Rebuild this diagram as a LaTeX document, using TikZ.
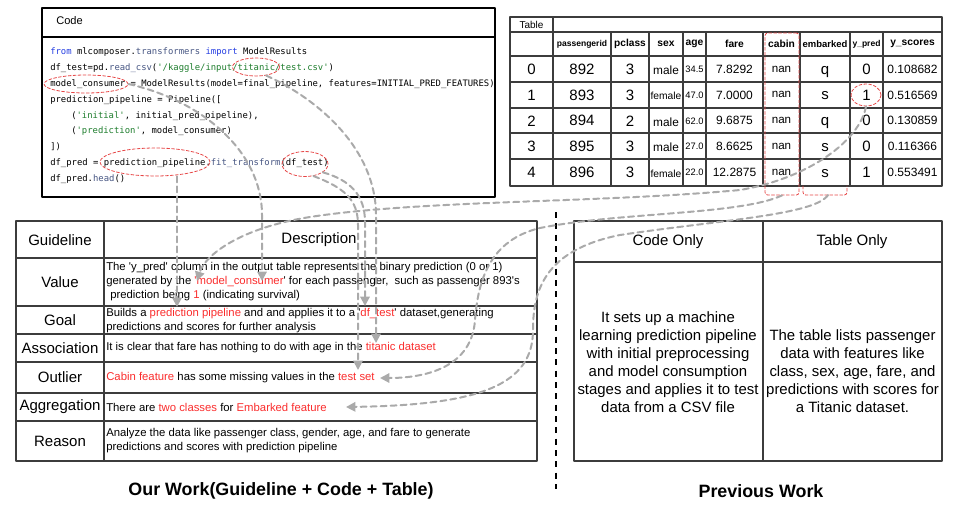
\documentclass[tikz,border=0pt]{standalone}
\usepackage{fontspec}
\setmainfont{Liberation Sans}[Ligatures=TeXOff]
\newfontfamily\codefont{DejaVu Sans Mono}
\usepackage{tikz}
\usetikzlibrary{arrows.meta, calc, shapes.geometric}
\usepackage{xcolor}
\definecolor{hlred}{RGB}{250, 45, 45}
\definecolor{markred}{RGB}{230, 70, 70}
\definecolor{arrowgray}{RGB}{170, 170, 170}
\definecolor{gridgray}{RGB}{60, 60, 60}
\definecolor{kwblue}{RGB}{35, 60, 225}
\definecolor{fnslate}{RGB}{70, 85, 130}
\definecolor{strgreen}{RGB}{30, 125, 45}
\newcommand{\redtxt}[1]{\textcolor{hlred}{#1}}
\newcommand{\kw}[1]{\textcolor{kwblue}{#1}}
\newcommand{\fn}[1]{\textcolor{fnslate}{#1}}
\newcommand{\st}[1]{\textcolor{strgreen}{#1}}
\newcommand{\fs}[1]{\fontsize{#1}{1.2\dimexpr#1pt\relax}\selectfont}

\begin{document}
\begin{tikzpicture}[x=0.75pt, y=-0.75pt, line cap=round, line join=round,
	grid/.style={draw=gridgray, line width=1pt},
	code/.style={anchor=west, inner sep=0, font=\codefont\fs{6.67}},
	cell/.style={inner sep=0, font=\fs{#1}},
	hcell/.style={inner sep=0, font=\bfseries\fs{#1}},
	desc/.style={anchor=west, align=left, inner sep=0, font=\fontsize{8.5}{10.5}\selectfont},
	head/.style={inner sep=0, align=center, font=\fontsize{11.25}{13.5}\selectfont},
	redmark/.style={draw=markred, dash pattern=on 2.2pt off 1.5pt, line width=0.6pt, inner sep=0},
	flow/.style={draw=arrowgray, line width=1.5pt, dash pattern=on 4.5pt off 3pt, -{Triangle[length=7pt,width=7pt]}},
	title/.style={inner sep=0, font=\bfseries\fontsize{13.4}{15}\selectfont}]
	\useasboundingbox (0,0) rectangle (955,508);

	% code box
	\draw[line width=1pt] (42,8) rectangle (495,197);
	\draw[line width=1pt] (42,37) -- (495,37);
	\node[anchor=west, inner sep=0, font=\fs{8.3}] (codeHd) at (56,21) {Code};
	\node[code] (c1) at (50,52) {\kw{from} mlcomposer.\fn{transformers} \kw{import} ModelResults};
	\node[code] (c2) at (50,68) {df\_test=pd.\fn{read\_csv}(\st{'/kaggle/input/titanic/test.csv'})};
	\node[code] (c3) at (50,84) {model\_consumer = ModelResults(model=final\_pipeline, features=INITIAL\_PRED\_FEATURES)};
	\node[code] (c4) at (50,100) {prediction\_pipeline = Pipeline([};
	\node[code] (c5) at (71,116) {(\st{'initial'}, initial\_pred\_pipeline),};
	\node[code] (c6) at (71,131) {(\st{'prediction'}, model\_consumer)};
	\node[code] (c7) at (50,147) {])};
	\node[code] (c8) at (50,163) {df\_pred = prediction\_pipeline.\fn{fit\_transform}(df\_test)};
	\node[code] (c9) at (50,179) {df\_pred.\fn{head}()};

	% marks in the code
	\node[redmark, ellipse, minimum width=35.25pt, minimum height=13.5pt] (titEll) at (256,67) {};
	\node[redmark, ellipse, minimum width=63pt, minimum height=13.5pt] (consEll) at (86,84) {};
	\node[redmark, ellipse, minimum width=82.5pt, minimum height=21pt] (pipeEll) at (155,162) {};
	\node[redmark, ellipse, minimum width=34.5pt, minimum height=18.75pt] (dftEll) at (305,164) {};

	% output table
	\draw[grid] (510,17) rectangle (942,186);
	\draw[grid] (553,17) -- (553,186);
	\foreach \yy in {32,56,82,108,133,159}
		\draw[grid] (510,\yy) -- (942,\yy);
	\foreach \xx in {611,649,683,706,763,800,850,883}
		\draw[grid] (\xx,32) -- (\xx,186);
	\node[cell=7.5] (tabHd) at (531.5,24.5) {Table};
	\node[hcell=6.4] (hPid) at (582,44) {passengerid};
	\node[hcell=7.6] (hPcl) at (630,44) {pclass};
	\node[hcell=7.7] (hSex) at (666,44) {sex};
	\node[hcell=7.7] (hAge) at (694.5,44) {age};
	\node[hcell=7.7] (hFare) at (734.5,44) {fare};
	\node[hcell=7.7] (hCab) at (781.5,44) {cabin};
	\node[hcell=7.1] (hEmb) at (825,44) {embarked};
	\node[hcell=6.4] (hYp) at (866.5,44) {y\_pred};
	\node[hcell=7.7] (hYs) at (912.5,44) {y\_scores};
	\foreach \r/\pid/\pc/\sx/\ss/\ag/\fr/\eb/\yp/\ys in {
		0/892/3/male/8.9/34.5/7.8292/q/0/0.108682,
		1/893/3/female/7.7/47.0/7.0000/s/1/0.516569,
		2/894/2/male/8.9/62.0/9.6875/q/0/0.130859,
		3/895/3/male/8.9/27.0/8.6625/s/0/0.116366,
		4/896/3/female/7.7/22.0/12.2875/s/1/0.553491}{
		\node[cell=11.25] (r\r-i) at (531.5,{69+25.9*\r}) {\r};
		\node[cell=11.25] (r\r-pid) at (582,{69+25.9*\r}) {\pid};
		\node[cell=11.25] (r\r-pc) at (630,{69+25.9*\r}) {\pc};
		\node[cell=\ss] (r\r-sx) at (666,{70+25.9*\r}) {\sx};
		\node[cell=7] (r\r-ag) at (694.5,{69+25.9*\r}) {\ag};
		\node[cell=9] (r\r-fr) at (734.5,{69+25.9*\r}) {\fr};
		\node[cell=8.7] (r\r-cb) at (781.5,{69+25.9*\r}) {nan};
		\node[cell=11.25, anchor=base] (r\r-eb) at (825,{74+25.9*\r}) {\eb};
		\node[cell=11.25] (r\r-yp) at (866.5,{69+25.9*\r}) {\yp};
		\node[cell=9] (r\r-ys) at (912.5,{69+25.9*\r}) {\ys};
	}

	% marks in the table
	\node[redmark, rectangle, rounded corners=2pt, minimum width=25.5pt, minimum height=121.5pt] (cabinBox) at (782,114) {};
	\node[redmark, ellipse, minimum width=22.5pt, minimum height=16.5pt] (ypredEll) at (866,95) {};
	\draw[redmark, rounded corners=2pt] (803,186) -- (803,195) -- (847,195) -- (847,186);
	\coordinate (embBot) at (828,195);

	% guideline table
	\draw[grid] (16,221) rectangle (537,461);
	\draw[grid] (104,221) -- (104,461);
	\foreach \yy in {258,306,334,362,393,421}
		\draw[grid] (16,\yy) -- (537,\yy);
	\node[head] (gHd) at (60,240) {Guideline};
	\node[head] (dHd) at (319,240) {Description};
	\node[head] (gVal) at (60,282) {Value};
	\node[head] (gGoal) at (60,320) {Goal};
	\node[head] (gAssoc) at (60,348) {Association};
	\node[head] (gOut) at (60,377.5) {Outlier};
	\node[head] (gAgg) at (60,407) {Aggregation};
	\node[head] (gRea) at (60,441) {Reason};
	\node[desc] (dVal) at (106,282) {The 'y\_pred' column in the output table represents the binary prediction (0 or 1)\\generated by the \redtxt{'model\_consumer}' for each passenger,\ \ such as passenger 893's\\\hspace*{3pt}prediction being \redtxt{1} (indicating survival)};
	\node[desc] (dGoal) at (106,321) {Builds a \redtxt{prediction pipeline} and and applies it to a '\redtxt{df\_test}' dataset,generating\\predictions and scores for further analysis};
	\node[desc] (dAssoc) at (106,348) {It is clear that fare has nothing to do with age in the \redtxt{titanic dataset}};
	\node[desc] (dOut) at (106,377.5) {\redtxt{Cabin feature} has some missing values in the \redtxt{test set}};
	\node[desc] (dAgg) at (106,407) {There are \redtxt{two classes} for \redtxt{Embarked feature}};
	\node[desc] (dRea) at (106,441) {Analyze the data like passenger class, gender, age, and fare to generate\\predictions and scores with prediction pipeline};

	% previous work table
	\draw[grid] (574,221) rectangle (942,461);
	\draw[grid] (763,221) -- (763,461);
	\draw[grid] (574,262) -- (942,262);
	\node[head] (pCode) at (668,242) {Code Only};
	\node[head] (pTab) at (852,242) {Table Only};
	\node[head, font=\fontsize{11.2}{13.5}\selectfont] (pCodeTxt) at (668,362) {It sets up a machine\\learning prediction pipeline\\with initial preprocessing\\and model consumption\\stages and applies it to test\\data from a CSV file};
	\node[head, font=\fontsize{11.2}{13.5}\selectfont] (pTabTxt) at (852.5,371) {The table lists passenger\\data with features like\\class, sex, age, fare, and\\predictions with scores for\\a Titanic dataset.};

	% separator and titles
	\draw[line width=1.9pt, dash pattern=on 4.5pt off 4pt, line cap=butt] (556,212) -- (556,489);
	\node[title] (ourWork) at (281,491) {Our Work(Guideline + Code + Table)};
	\node[title] (prevWork) at (761,491) {Previous Work};

	% arrow ends
	\coordinate (valCons) at (262,281);
	\coordinate (valOne) at (197,281);
	\coordinate (goalPipe) at (177,307);
	\coordinate (goalDft) at (365,306);
	\coordinate (assocTit) at (376,343);
	\coordinate (outTest) at (358,370);
	\coordinate (outSet) at (380,378);
	\coordinate (aggEmb) at (346,407);

	% links from code
	\draw[flow] (consEll.east) .. controls (200,100) and (262,150) .. (262,215) -- (valCons);
	\draw[flow] (pipeEll.south -| goalPipe) -- (goalPipe);
	\draw[flow] (titEll.-40) .. controls (320,100) and (376,150) .. (376,215) -- (assocTit);
	\draw[flow] (dftEll.-25) .. controls (350,180) and (365,195) .. (365,222) -- (goalDft);
	\draw[flow] (dftEll.-55) .. controls (345,188) and (358,200) .. (358,225) -- (outTest);

	% links from table
	\draw[flow] (ypredEll.south) .. controls (860,140) and (810,178) .. (740,190) .. controls (600,203) and (420,200) .. (310,217) .. controls (240,228) and (205,255) .. (valOne);
	\draw[flow] (cabinBox.south) .. controls (740,215) and (620,212) .. (540,228) .. controls (490,240) and (478,280) .. (475,320) .. controls (472,365) and (430,378) .. (outSet);
	\draw[flow] (embBot) .. controls (815,215) and (720,220) .. (620,235) .. controls (545,250) and (533,290) .. (533,330) .. controls (533,385) and (480,405) .. (aggEmb);
\end{tikzpicture}
\end{document}
